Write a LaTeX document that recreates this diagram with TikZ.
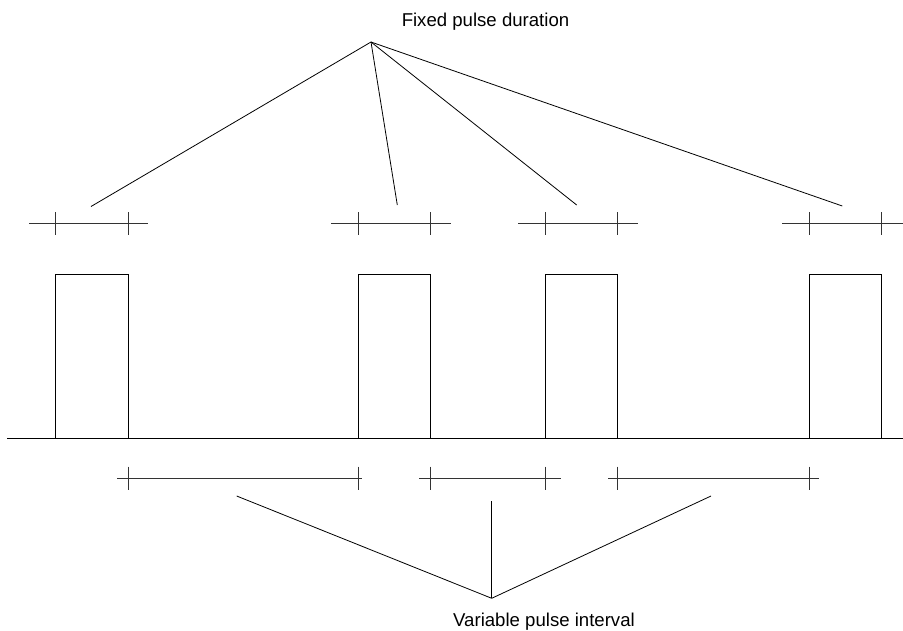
\documentclass[tikz,border=0pt]{standalone}
\usepackage{fontspec}
\setmainfont{Liberation Sans}

\begin{document}
\begin{tikzpicture}[x=1pt,y=-1pt,
  signal/.style={line width=0.9pt},
  dimline/.style={line width=0.9pt, black!80},
  leader/.style={line width=0.8pt},
  caption/.style={font=\fontsize{18.6}{20}\selectfont, inner sep=0pt, anchor=base}]
\useasboundingbox (0,0) rectangle (903,630);

% pulse train
\coordinate (S0) at (7,438);
\coordinate (A) at (55.5,438);
\coordinate (B) at (55.5,274);
\coordinate (C) at (128,274);
\coordinate (D) at (128,438);
\coordinate (E) at (358,438);
\coordinate (F) at (358,274);
\coordinate (G) at (430,274);
\coordinate (H) at (430,438);
\coordinate (I) at (545,438);
\coordinate (J) at (545,274);
\coordinate (K) at (617,274);
\coordinate (L) at (617,438);
\coordinate (M) at (809,438);
\coordinate (N) at (809,274);
\coordinate (O) at (881,274);
\coordinate (P) at (881,438);
\coordinate (S1) at (903,438);

\draw[signal] (S0) -- (S1);
\draw[signal] (A) -- (B) -- (C) -- (D);
\draw[signal] (E) -- (F) -- (G) -- (H);
\draw[signal] (I) -- (J) -- (K) -- (L);
\draw[signal] (M) -- (N) -- (O) -- (P);

% pulse duration marks
\draw[dimline] (29,223) -- (148,223);
\draw[dimline] (331,223) -- (450.7,223);
\draw[dimline] (518.3,223) -- (637.7,223);
\draw[dimline] (782,223) -- (903,223);
\foreach \x in {55.5,128,358,430,545,617,809,881}
  \draw[dimline] (\x,212) -- (\x,235);

% pulse interval marks
\draw[dimline] (117,478) -- (361.7,478);
\draw[dimline] (419.3,478) -- (560.7,478);
\draw[dimline] (608,478) -- (819,478);
\foreach \x in {128,358,430,545,617,809}
  \draw[dimline] (\x,466.5) -- (\x,489.5);

% labels
\node[caption] (fixed) at (485.5,26) {Fixed pulse duration};
\node[caption] (variable) at (544,626.5) {Variable pulse interval};

\coordinate (T) at (371,42);
\coordinate (T1) at (91,206.5);
\coordinate (T2) at (397.3,205);
\coordinate (T3) at (576.7,205);
\coordinate (T4) at (842.3,206);
\draw[leader] (T) -- (T1);
\draw[leader] (T) -- (T2);
\draw[leader] (T) -- (T3);
\draw[leader] (T) -- (T4);

\coordinate (U) at (491.7,598.3);
\coordinate (U1) at (236.7,496);
\coordinate (U2) at (491.7,500.7);
\coordinate (U3) at (711,496);
\draw[leader] (U) -- (U1);
\draw[leader] (U) -- (U2);
\draw[leader] (U) -- (U3);

\end{tikzpicture}
\end{document}
